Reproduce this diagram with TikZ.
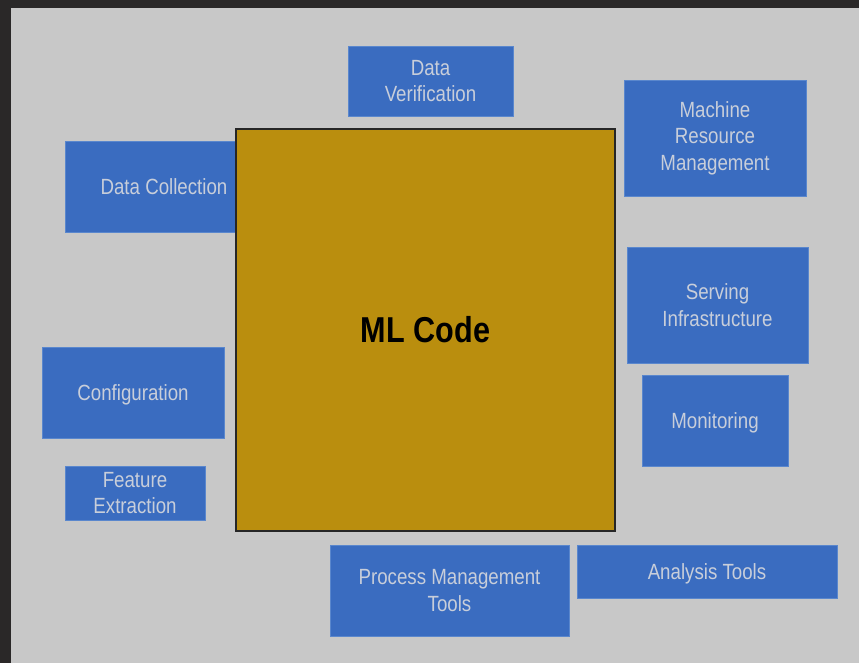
\documentclass[tikz,border=0pt]{standalone}
\usepackage{fontspec}
\setmainfont{Liberation Sans}[FakeStretch=0.85]
\definecolor{board}{RGB}{42,40,40}
\definecolor{panel}{RGB}{200,200,200}
\definecolor{boxblue}{RGB}{58,108,192}
\definecolor{boxedge}{RGB}{90,135,205}
\definecolor{boxtext}{RGB}{200,206,218}
\definecolor{mlgold}{RGB}{186,142,14}
\begin{document}
\begin{tikzpicture}[x=1pt,y=-1pt,
    part/.style={fill=boxblue,draw=boxedge,line width=0.6pt,text=boxtext,
        align=center,inner sep=0pt,font=\fontsize{22}{26.5}\selectfont},
    oneline/.style={part,text depth=0pt},
    core/.style={fill=mlgold,draw=black!85,line width=1.3pt,inner sep=0pt,
        font=\fontsize{36}{40}\selectfont\bfseries}]
    \useasboundingbox (0,0) rectangle (859,663);
    \fill[board] (0,0) rectangle (859,663);
    \fill[panel] (11,8) rectangle (859,663);
    % blocks round the code
    \node[part,minimum width=165pt,minimum height=70pt] (verify) at (430.5,81) {Data\\Verification};
    \node[part,minimum width=182pt,minimum height=116pt] (resource) at (715,138) {Machine\\Resource\\Management};
    \node[oneline,minimum width=198pt,minimum height=91pt] (collect) at (164,186.5) {Data Collection};
    \node[part,minimum width=181pt,minimum height=116pt] (serving) at (717.5,305) {Serving\\Infrastructure};
    \node[oneline,minimum width=146pt,minimum height=91pt] (monitor) at (715,420.5) {Monitoring};
    \node[oneline,minimum width=182pt,minimum height=91pt] (config) at (133,392.5) {Configuration};
    \node[part,minimum width=140pt,minimum height=54pt] (feature) at (135,493) {Feature\\Extraction};
    \node[part,minimum width=239pt,minimum height=91pt] (process) at (449.5,590.5) {Process Management\\Tools};
    \node[oneline,minimum width=260pt,minimum height=53pt] (analysis) at (707,571.5) {Analysis Tools};
    % the code itself
    \node[core,minimum width=379pt,minimum height=402pt] (mlcode) at (425.5,330) {ML Code};
\end{tikzpicture}
\end{document}
